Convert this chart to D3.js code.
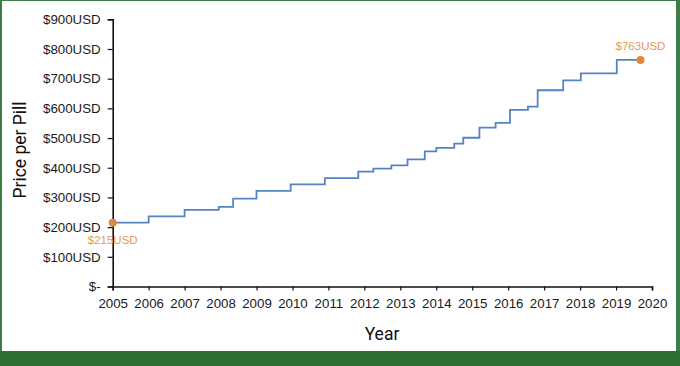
<!DOCTYPE html>
<html>
<head>
<meta charset="utf-8">
<script src="https://cdn.jsdelivr.net/npm/d3@7"></script>
<style>
  html, body { margin: 0; padding: 0; background: #fff; }
  svg { display: block; }
  .axis text { font-family: "Liberation Sans", Arial, sans-serif; font-size: 13.3px; fill: #1a1a1a; }
  .axis path, .axis line { stroke: #111; }
  .title { font-family: Roboto, "Noto Sans", sans-serif; fill: #111; }
  .note { font-family: "Liberation Sans", Arial, sans-serif; font-size: 11.5px; fill: #e39a55; }
</style>
</head>
<body>
<svg id="chart" width="680" height="366"></svg>
<script>
// price per pill, stepped changes (decimal year of each change)
const changeDates = [2005.0, 2006.0, 2007.0, 2007.95, 2008.35, 2009.0, 2009.95, 2010.9, 2011.83,
  2012.25, 2012.75, 2013.2, 2013.68, 2014.0, 2014.5, 2014.75, 2015.2, 2015.65, 2016.05,
  2016.55, 2016.82, 2017.53, 2018.02, 2019.02, 2019.68];
const prices = [215, 236, 258, 268, 296, 322, 344, 365, 387, 397, 408, 428, 455, 467, 481,
  501, 535, 551, 595, 606, 661, 694, 718, 763, 763];
const yearTicks = d3.range(2005, 2021);
const priceTicks = [0, 100, 200, 300, 400, 500, 600, 700, 800, 900];
const startLabel = '$215USD';
const endLabel = '$763USD';

const svg = d3.select('#chart');
const W = 680, H = 366;

// frame
svg.append('rect').attr('x', 0).attr('y', 0).attr('width', W).attr('height', H).attr('fill', '#3e7e45');
svg.append('rect').attr('x', 2).attr('y', 1).attr('width', W - 6).attr('height', 350).attr('fill', '#fff');
svg.append('rect').attr('x', 0).attr('y', 351).attr('width', W).attr('height', H - 351).attr('fill', '#2f6f33');

const x = d3.scaleLinear().domain([2005, 2020]).range([112.7, 652]);
const y = d3.scaleLinear().domain([0, 900]).range([286.5, 19.3]);

const points = changeDates.map((d, i) => ({ date: d, price: prices[i] }));

// axes
svg.append('g')
  .attr('class', 'axis')
  .attr('transform', `translate(0,${y(0)})`)
  .call(d3.axisBottom(x).tickValues(yearTicks).tickFormat(d3.format('d')).tickSizeOuter(0).tickSize(4).tickPadding(8))
  .call(g => g.select('.domain').attr('stroke-width', 1.6))
  .call(g => g.selectAll('.tick line').attr('stroke-width', 1.2));

svg.append('g')
  .attr('class', 'axis')
  .attr('transform', `translate(${x(2005)},0)`)
  .call(d3.axisLeft(y).tickValues(priceTicks)
    .tickFormat(d => (d === 0 ? '$-' : `$${d}USD`))
    .tickSizeOuter(0).tickSize(5).tickPadding(7))
  .call(g => g.select('.domain').attr('stroke-width', 1.6))
  .call(g => g.selectAll('.tick line').attr('stroke-width', 1.2));

// step line
const line = d3.line()
  .x(d => x(d.date))
  .y(d => y(d.price))
  .curve(d3.curveStepAfter);

svg.append('path')
  .datum(points)
  .attr('fill', 'none')
  .attr('stroke', '#5683c4')
  .attr('stroke-width', 1.8)
  .attr('d', line);

// endpoints
const first = points[0];
const last = points[points.length - 1];
svg.selectAll('circle.end')
  .data([first, last])
  .join('circle')
  .attr('class', 'end')
  .attr('cx', d => x(d.date))
  .attr('cy', d => y(d.price))
  .attr('r', 4)
  .attr('fill', '#dd8a3e');

svg.append('text').attr('class', 'note')
  .attr('x', x(first.date)).attr('y', y(first.price) + 21)
  .attr('text-anchor', 'middle').text(startLabel);
svg.append('text').attr('class', 'note')
  .attr('x', x(last.date)).attr('y', y(last.price) - 9.5)
  .attr('text-anchor', 'middle').text(endLabel);

// titles
svg.append('text').attr('class', 'title')
  .attr('x', 382).attr('y', 340)
  .attr('text-anchor', 'middle')
  .attr('font-size', 17.5)
  .text('Year');

svg.append('text').attr('class', 'title')
  .attr('transform', 'translate(26,150) rotate(-90)')
  .attr('text-anchor', 'middle')
  .attr('font-size', 17.5)
  .text('Price per Pill');
</script>
</body>
</html>
